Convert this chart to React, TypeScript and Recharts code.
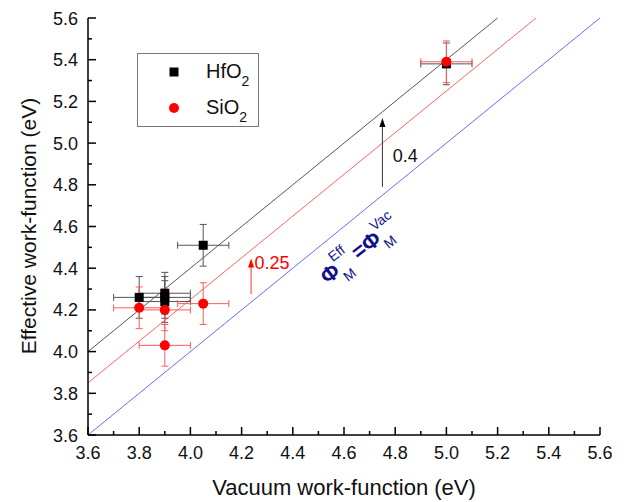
import React from "react";
import {
  ScatterChart,
  Scatter,
  XAxis,
  YAxis,
  ErrorBar,
  ReferenceLine,
  ReferenceDot,
  Legend,
  Label,
} from "recharts";

// HfO2 points
const hfX = [3.8, 3.9, 3.9, 3.9, 4.05, 5.0];
const hfY = [4.26, 4.28, 4.26, 4.24, 4.51, 5.38];
const hfXErr = [0.1, 0.1, 0.1, 0.1, 0.1, 0.1];
const hfYErr = [0.1, 0.1, 0.1, 0.1, 0.1, 0.1];

// SiO2 points
const siX = [3.8, 3.9, 3.9, 4.05, 5.0];
const siY = [4.21, 4.2, 4.03, 4.23, 5.39];
const siXErr = [0.1, 0.1, 0.1, 0.1, 0.1];
const siYErr = [0.1, 0.1, 0.1, 0.1, 0.1];

const seriesNames = ["HfO", "SiO"];

const ticks = [
  3.6, 3.7, 3.8, 3.9, 4.0, 4.1, 4.2, 4.3, 4.4, 4.5, 4.6, 4.7, 4.8, 4.9, 5.0,
  5.1, 5.2, 5.3, 5.4, 5.5, 5.6,
];

// offsets of the guide lines above y = x
const guideOffsets = [0, 0.25, 0.4];
const guideColors = ["#5a5aff", "#ff5252", "#444"];

const hfData = hfX.map((x, i) => ({ x, y: hfY[i], ex: hfXErr[i], ey: hfYErr[i] }));
const siData = siX.map((x, i) => ({ x, y: siY[i], ex: siXErr[i], ey: siYErr[i] }));

const FONT = "'Liberation Sans', Arial, sans-serif";
const isMajor = (v: number) => Math.round(v * 10) % 2 === 0;

const BottomTick = (p: any) => {
  const v = p.payload.value;
  const major = isMajor(v);
  return (
    <g>
      <line x1={p.x} x2={p.x} y1={p.y} y2={p.y - (major ? 8 : 4)} stroke="#000" strokeWidth={1.5} />
      {major && (
        <text x={p.x} y={p.y + 24} textAnchor="middle" fontSize={18} fontFamily={FONT} fill="#111">
          {v.toFixed(1)}
        </text>
      )}
    </g>
  );
};

const TopTick = (p: any) => {
  const major = isMajor(p.payload.value);
  return <line x1={p.x} x2={p.x} y1={p.y} y2={p.y + (major ? 8 : 4)} stroke="#000" strokeWidth={1.5} />;
};

const LeftTick = (p: any) => {
  const v = p.payload.value;
  const major = isMajor(v);
  return (
    <g>
      <line x1={p.x} x2={p.x + (major ? 8 : 4)} y1={p.y} y2={p.y} stroke="#000" strokeWidth={1.5} />
      {major && (
        <text x={p.x - 10} y={p.y + 6.5} textAnchor="end" fontSize={18} fontFamily={FONT} fill="#111">
          {v.toFixed(1)}
        </text>
      )}
    </g>
  );
};

const RightTick = (p: any) => {
  const major = isMajor(p.payload.value);
  return <line x1={p.x} x2={p.x - (major ? 8 : 4)} y1={p.y} y2={p.y} stroke="#000" strokeWidth={1.5} />;
};

const squareShape = (p: any) => <rect x={p.cx - 4.5} y={p.cy - 4.5} width={9} height={9} fill="#000" />;
const circleShape = (p: any) => <circle cx={p.cx} cy={p.cy} r={5} fill="#ff0000" />;

const arrowHead = (color: string) => (p: any) =>
  <path d={`M${p.cx},${p.cy} L${p.cx - 3},${p.cy + 9} L${p.cx + 3},${p.cy + 9} Z`} fill={color} />;

const textAt = (value: string, color: string) => (p: any) =>
  (
    <text x={p.cx} y={p.cy} dominantBaseline="central" fontSize={18} fontFamily={FONT} fill={color}>
      {value}
    </text>
  );

const formula = (p: any) => (
  <g transform={`translate(${p.cx},${p.cy}) rotate(-38)`} fill="#10108a" fontFamily={FONT}>
    <text x={0} y={0} textAnchor="middle" dominantBaseline="central" fontSize={22} fontWeight="bold">Φ</text>
    <text x={9} y={-12} dominantBaseline="central" fontSize={14}>Eff</text>
    <text x={9} y={13} dominantBaseline="central" fontSize={14}>M</text>
    <text x={37} y={0} textAnchor="middle" dominantBaseline="central" fontSize={22} fontWeight="bold">=</text>
    <text x={52} y={0} textAnchor="middle" dominantBaseline="central" fontSize={22} fontWeight="bold">Φ</text>
    <text x={61} y={-11} dominantBaseline="central" fontSize={14}>Vac</text>
    <text x={61} y={12} dominantBaseline="central" fontSize={14}>M</text>
  </g>
);

const LegendBox = () => (
  <div
    style={{
      width: 120,
      height: 72,
      border: "1px solid #777",
      background: "#fff",
      fontFamily: FONT,
      fontSize: 20,
      position: "relative",
    }}
  >
    {seriesNames.map((name, i) => (
      <div key={name} style={{ position: "absolute", left: 0, top: i === 0 ? 6 : 42, height: 24, width: 120 }}>
        <svg width={20} height={20} style={{ position: "absolute", left: 26, top: 2 }}>
          {i === 0 ? <rect x={5.5} y={5.5} width={9} height={9} fill="#000" /> : <circle cx={10} cy={10} r={5} fill="#ff0000" />}
        </svg>
        <span style={{ position: "absolute", left: 68, top: -1, lineHeight: "24px", color: "#111" }}>
          {name}
          <sub style={{ fontSize: 14, verticalAlign: -8 }}>2</sub>
        </span>
      </div>
    ))}
  </div>
);

export default function App() {
  return (
    <div style={{ position: "absolute", left: 0, top: 0, background: "#fff" }}>
      <ScatterChart width={626} height={502} margin={{ top: 18, right: 26, bottom: 0, left: 0 }}>
        <XAxis
          type="number"
          dataKey="x"
          domain={[3.6, 5.6]}
          ticks={ticks}
          interval={0}
          allowDataOverflow
          height={67}
          tickSize={0}
          tickMargin={0}
          tickLine={false}
          tick={<BottomTick />}
          axisLine={{ stroke: "#000", strokeWidth: 1.5 }}
        >
          <Label
            content={() => (
              <text x={88 + 256} y={495} textAnchor="middle" fontSize={22} fontFamily={FONT} fill="#111">
                Vacuum work-function (eV)
              </text>
            )}
          />
        </XAxis>
        <XAxis
          xAxisId="top"
          orientation="top"
          type="number"
          dataKey="x"
          domain={[3.6, 5.6]}
          ticks={ticks}
          interval={0}
          allowDataOverflow
          height={0}
          tickSize={0}
          tickMargin={0}
          tickLine={false}
          tick={<TopTick />}
          axisLine={{ stroke: "#000", strokeWidth: 1.5 }}
        />
        <YAxis
          type="number"
          dataKey="y"
          domain={[3.6, 5.6]}
          ticks={ticks}
          interval={0}
          allowDataOverflow
          width={88}
          tickSize={0}
          tickMargin={0}
          tickLine={false}
          tick={<LeftTick />}
          axisLine={{ stroke: "#000", strokeWidth: 1.5 }}
        >
          <Label
            content={() => (
              <text
                x={36}
                y={226}
                transform="rotate(-90 36 226)"
                textAnchor="middle"
                fontSize={21}
                fontFamily={FONT}
                fill="#111"
              >
                Effective work-function (eV)
              </text>
            )}
          />
        </YAxis>
        <YAxis
          yAxisId="right"
          orientation="right"
          type="number"
          dataKey="y"
          domain={[3.6, 5.6]}
          ticks={ticks}
          interval={0}
          allowDataOverflow
          width={0}
          tickSize={0}
          tickMargin={0}
          tickLine={false}
          tick={<RightTick />}
          axisLine={{ stroke: "#000", strokeWidth: 1.5 }}
        />

        {guideOffsets.map((d, i) => (
          <ReferenceLine
            key={d}
            segment={[
              { x: 3.6, y: 3.6 + d },
              { x: 5.6 - d, y: 5.6 },
            ]}
            stroke={guideColors[i]}
            strokeWidth={0.9}
          />
        ))}

        <ReferenceLine segment={[{ x: 4.75, y: 4.79 }, { x: 4.75, y: 5.09 }]} stroke="#333" strokeWidth={1} />
        <ReferenceDot x={4.75} y={5.12} r={0} shape={arrowHead("#000")} />
        <ReferenceDot x={4.79} y={4.94} r={0} shape={textAt("0.4", "#111")} />

        <ReferenceLine segment={[{ x: 4.237, y: 4.276 }, { x: 4.237, y: 4.42 }]} stroke="#ff3030" strokeWidth={1} />
        <ReferenceDot x={4.237} y={4.447} r={0} shape={arrowHead("#ff0000")} />
        <ReferenceDot x={4.25} y={4.426} r={0} shape={textAt("0.25", "#ff0000")} />

        <ReferenceDot x={4.545} y={4.375} r={0} shape={formula} />

        <Scatter name="HfO2" data={hfData} shape={squareShape} isAnimationActive={false}>
          <ErrorBar dataKey="ex" direction="x" width={3.5} stroke="#555" strokeWidth={1} isAnimationActive={false} />
          <ErrorBar dataKey="ey" direction="y" width={3.5} stroke="#555" strokeWidth={1} isAnimationActive={false} />
        </Scatter>
        <Scatter name="SiO2" data={siData} shape={circleShape} isAnimationActive={false}>
          <ErrorBar dataKey="ex" direction="x" width={3.5} stroke="#ff5a5a" strokeWidth={1} isAnimationActive={false} />
          <ErrorBar dataKey="ey" direction="y" width={3.5} stroke="#ff5a5a" strokeWidth={1} isAnimationActive={false} />
        </Scatter>

        <Legend
          layout="horizontal"
          verticalAlign="middle"
          align="center"
          content={() => <LegendBox />}
          wrapperStyle={{ left: 137, top: 53, width: 122, height: 74 }}
        />
      </ScatterChart>
    </div>
  );
}
